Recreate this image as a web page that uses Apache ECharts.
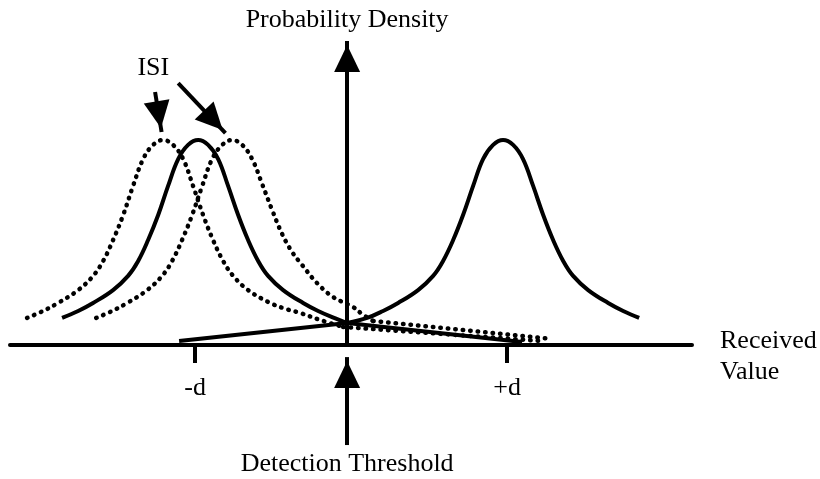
<!DOCTYPE html>
<html>
<head>
<meta charset="utf-8">
<title>Received value densities with ISI</title>
<script src="https://cdn.jsdelivr.net/npm/echarts@6/dist/echarts.min.js"></script>
<style>
  html, body { margin: 0; padding: 0; background: #fff; }
  #main { width: 820px; height: 479px; }
</style>
</head>
<body>
<div id="main"></div>
<script>
// x is in units of d (detection threshold at 0), y is density relative to the peak
const solidLeft = [[-1.839,0.132],[-1.735,0.166],[-1.639,0.205],[-1.510,0.268],[-1.413,0.337],[-1.348,0.410],[-1.284,0.512],[-1.219,0.634],[-1.155,0.776],[-1.090,0.907],[-1.026,0.976],[-0.961,1.000],[-0.897,0.976],[-0.832,0.907],[-0.768,0.776],[-0.703,0.634],[-0.639,0.512],[-0.574,0.410],[-0.510,0.337],[-0.413,0.268],[-0.284,0.205],[-0.187,0.166],[-0.084,0.132],[0,0.107]];
const solidLeftTail = [[0,0.107],[1.129,0.015]];

const solidRight = [[0,0.107],[0.129,0.132],[0.232,0.166],[0.329,0.205],[0.458,0.268],[0.555,0.337],[0.619,0.410],[0.684,0.512],[0.748,0.634],[0.813,0.776],[0.877,0.907],[0.942,0.976],[1.006,1.000],[1.071,0.976],[1.135,0.907],[1.200,0.776],[1.265,0.634],[1.329,0.512],[1.394,0.410],[1.458,0.337],[1.555,0.268],[1.684,0.205],[1.781,0.166],[1.884,0.132]];
const solidRightTail = [[0,0.107],[-1.084,0.020]];

// ISI shifted copies of the -d pulse
const dottedEarly = [[-2.065,0.132],[-1.961,0.166],[-1.865,0.205],[-1.735,0.268],[-1.639,0.337],[-1.574,0.410],[-1.510,0.512],[-1.445,0.634],[-1.381,0.776],[-1.316,0.907],[-1.252,0.976],[-1.187,1.000],[-1.123,0.976],[-1.058,0.907],[-0.994,0.776],[-0.929,0.634],[-0.865,0.512],[-0.800,0.410],[-0.735,0.337],[-0.639,0.268],[-0.510,0.210],[-0.413,0.180],[-0.303,0.156],[-0.174,0.122],[-0.026,0.088]];
const dottedEarlyTail = [[-0.026,0.088],[1.245,0.020]];

const dottedLate = [[-1.619,0.132],[-1.516,0.166],[-1.419,0.205],[-1.290,0.268],[-1.194,0.337],[-1.129,0.410],[-1.065,0.512],[-1.000,0.634],[-0.935,0.776],[-0.871,0.907],[-0.806,0.976],[-0.742,1.000],[-0.677,0.976],[-0.613,0.907],[-0.548,0.785],[-0.484,0.659],[-0.419,0.541],[-0.355,0.454],[-0.290,0.390],[-0.194,0.302],[-0.090,0.234],[0.039,0.185],[0.097,0.151],[0.168,0.117]];
const dottedLateTail = [[0.168,0.117],[1.323,0.029]];

const dTicks = [-0.981, 1.032];
const dLabels = ['-d', '+d'];

// arrows: [start, end] in data coords
const densityArrow = [[0, 0], [0, 1.483]];
const thresholdArrow = [[0, -0.488], [0, -0.059]];
const isiArrowShort = [[-1.239, 1.234], [-1.197, 1.039]];
const isiArrowLong = [[-1.090, 1.278], [-0.785, 1.034]];

const FONT = 'Liberation Serif';
const txt = { fontFamily: FONT, fontSize: 26, color: '#000' };

const solidStyle = { color: '#000', width: 4, type: 'solid' };
const dotStyle = { color: '#000', width: 4.5, type: [0.5, 7], cap: 'round' };

function curve(data, style, smooth) {
  return {
    type: 'line',
    data: data,
    smooth: smooth ? 0.4 : false,
    showSymbol: false,
    silent: true,
    lineStyle: style,
    itemStyle: { color: '#000' }
  };
}

function arrow(pts, label) {
  const from = { coord: pts[0], symbol: 'none' };
  if (label) from.label = Object.assign({ show: true }, txt, label);
  const to = { coord: pts[1], symbol: 'triangle', symbolSize: [26, 27], symbolOffset: [0, 17.5], itemStyle: { color: '#000' } };
  return [from, to];
}

function arrowHost(gridIdx, arrows) {
  return {
    type: 'line',
    xAxisIndex: gridIdx,
    yAxisIndex: gridIdx,
    data: [[0, 0]],
    showSymbol: false,
    silent: true,
    lineStyle: { width: 0 },
    itemStyle: { color: '#000' },
    markLine: {
      silent: true,
      animation: false,
      symbol: ['none', 'triangle'],
      symbolSize: 24,
      lineStyle: { color: '#000', width: 4, type: 'solid' },
      itemStyle: { color: '#000' },
      label: { show: false },
      emphasis: { disabled: true },
      data: arrows
    }
  };
}

const chart = echarts.init(document.getElementById('main'));
const option = {
  animation: false,
  backgroundColor: '#fff',
  grid: [
    { left: 10, right: 128, top: 37.5, bottom: 134, containLabel: false, outerBoundsMode: 'none' },
    { left: 10, right: 128, top: 345, bottom: 31.5, containLabel: false, outerBoundsMode: 'none' }
  ],
  xAxis: [{
    gridIndex: 0,
    type: 'value',
    min: -2.175,
    max: 2.225,
    name: '{r|Received}\n{v|Value}',
    nameLocation: 'end',
    nameGap: 28,
    nameTextStyle: Object.assign({}, txt, {
      align: 'left',
      verticalAlign: 'middle',
      rich: {
        r: Object.assign({}, txt, { lineHeight: 54 }),
        v: Object.assign({}, txt, { lineHeight: 8 })
      }
    }),
    axisLine: { onZero: false, lineStyle: { color: '#000', width: 4 } },
    axisTick: { show: true, customValues: dTicks, length: 18, lineStyle: { color: '#000', width: 4 } },
    axisLabel: Object.assign({}, txt, {
      customValues: dTicks,
      margin: 30,
      formatter: function (v) {
        let i = 0;
        dTicks.forEach(function (t, k) { if (Math.abs(t - v) < Math.abs(dTicks[i] - v)) i = k; });
        return dLabels[i];
      }
    }),
    splitLine: { show: false }
  }, {
    gridIndex: 1,
    type: 'value',
    min: -2.175,
    max: 2.225,
    show: false
  }],
  yAxis: [{
    gridIndex: 0,
    type: 'value',
    min: 0,
    max: 1.5,
    axisLine: { show: false },
    axisTick: { show: false },
    axisLabel: { show: false },
    splitLine: { show: false }
  }, {
    gridIndex: 1,
    type: 'value',
    min: -0.5,
    max: 0,
    show: false
  }],
  series: [
    curve(dottedEarly, dotStyle, true),
    curve(dottedEarlyTail, dotStyle, false),
    curve(dottedLate, dotStyle, true),
    curve(dottedLateTail, dotStyle, false),
    curve(solidLeft, solidStyle, true),
    curve(solidLeftTail, solidStyle, false),
    curve(solidRight, solidStyle, true),
    curve(solidRightTail, solidStyle, false),
    arrowHost(0, [
      arrow(densityArrow, { position: 'end', distance: 8, formatter: 'Probability Density' }),
      arrow(isiArrowShort, { position: 'start', distance: 11, formatter: 'ISI' }),
      arrow(isiArrowLong)
    ]),
    arrowHost(1, [
      arrow(thresholdArrow, { position: 'start', distance: 6, formatter: 'Detection Threshold' })
    ])
  ]
};
chart.setOption(option);
</script>
</body>
</html>
